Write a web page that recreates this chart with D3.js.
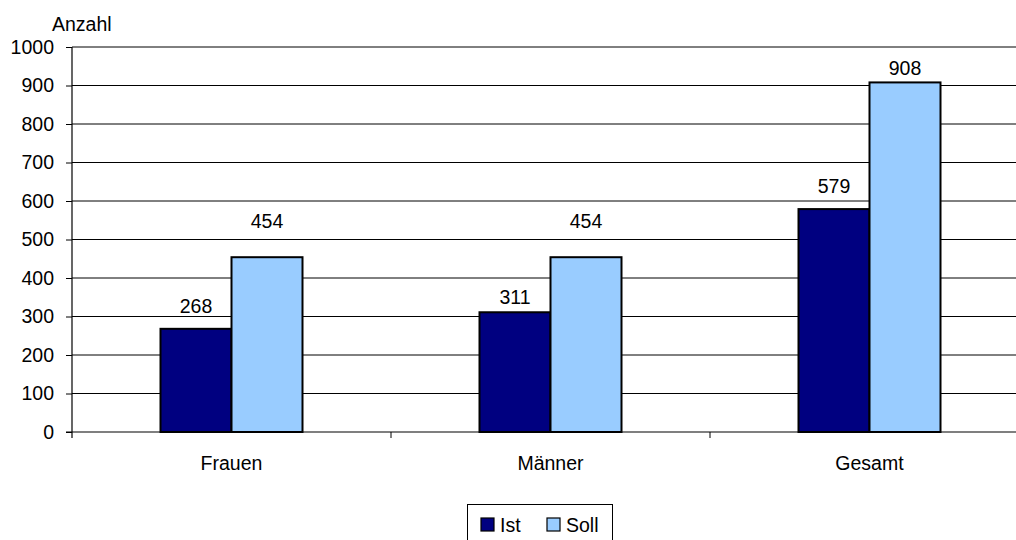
<!DOCTYPE html>
<html><head><meta charset="utf-8">
<script src="https://cdn.jsdelivr.net/npm/d3@7"></script>
<style>
html,body{margin:0;padding:0;background:#fff;overflow:hidden}
text{font-family:Arial,"Liberation Sans",sans-serif;fill:#000}
</style></head>
<body>
<svg id="c" width="1016" height="540"></svg>
<script>
const categories = ["Frauen", "Männer", "Gesamt"];
const seriesNames = ["Ist", "Soll"];
const istValues = [268, 311, 579];
const sollValues = [454, 454, 908];
const yTicks = [0, 100, 200, 300, 400, 500, 600, 700, 800, 900, 1000];
const yTitle = "Anzahl";
const colors = ["#000080", "#99CCFF"];
// label lift above bar top (px), as placed in the reference
const labelLift = [[16, 8, 16], [29, 29, 7]];

const series = [istValues, sollValues];
const svg = d3.select("#c");
const fs = 19.5;

const x = d3.scaleBand().domain(categories).range([72, 1029]).padding(0);
const barW = 71;
const xs = d3.scaleBand().domain(seriesNames)
  .range([(x.bandwidth() - 2 * barW) / 2, (x.bandwidth() + 2 * barW) / 2]).padding(0);
const y = d3.scaleLinear().domain([0, 1000]).range([432, 47]);

// gridlines
svg.append("g").selectAll("line").data(yTicks.filter(d => d > 0)).join("line")
  .attr("x1", 72).attr("x2", 1029)
  .attr("y1", d => y(d)).attr("y2", d => y(d))
  .attr("stroke", "#000").attr("stroke-width", 1);

// y axis
const yAxis = d3.axisLeft(y).tickValues(yTicks).tickSize(6).tickPadding(12).tickFormat(d3.format("d"));
const ga = svg.append("g").attr("transform", "translate(72,0)").call(yAxis);
ga.select(".domain").remove();
ga.selectAll(".tick line").attr("stroke", "#000");
ga.selectAll(".tick text").style("font-size", fs + "px").attr("fill", "#000")
  .style("font-family", "Arial, 'Liberation Sans', sans-serif").attr("x", -18);
svg.append("line").attr("x1", 72).attr("x2", 72).attr("y1", y(1000)).attr("y2", 438)
  .attr("stroke", "#000").attr("stroke-width", 1.2);

// bars
categories.forEach((c, i) => {
  const g = svg.append("g").attr("transform", `translate(${x(c)},0)`);
  g.selectAll("rect").data(seriesNames.map((s, k) => ({s, k, v: series[k][i]}))).join("rect")
    .attr("x", d => xs(d.s)).attr("width", xs.bandwidth())
    .attr("y", d => y(d.v)).attr("height", d => y(0) - y(d.v))
    .attr("fill", d => colors[d.k]).attr("stroke", "#000").attr("stroke-width", 2);
  g.selectAll("text").data(seriesNames.map((s, k) => ({s, k, v: series[k][i]}))).join("text")
    .attr("x", d => xs(d.s) + xs.bandwidth() / 2)
    .attr("y", d => y(d.v) - labelLift[d.k][i])
    .attr("text-anchor", "middle").style("font-size", fs + "px").text(d => d.v);
});

// x axis
const xAxis = d3.axisBottom(x).tickSize(0).tickFormat("");
const gx = svg.append("g").attr("transform", "translate(0,432)").call(xAxis);
gx.selectAll(".tick").remove();
gx.select(".domain").remove();
svg.append("line").attr("x1", 66).attr("x2", 1029).attr("y1", y(0)).attr("y2", y(0))
  .attr("stroke", "#000").attr("stroke-width", 1.2);
svg.append("g").selectAll("line").data(categories.slice(1)).join("line")
  .attr("x1", d => x(d)).attr("x2", d => x(d)).attr("y1", 432).attr("y2", 438)
  .attr("stroke", "#000");
svg.append("g").selectAll("text").data(categories).join("text")
  .attr("x", d => x(d) + x.bandwidth() / 2).attr("y", 470)
  .attr("text-anchor", "middle").style("font-size", fs + "px").text(d => d);

// y title
svg.append("text").attr("x", 52).attr("y", 31).style("font-size", fs + "px").text(yTitle);

// legend
const lg = svg.append("g");
lg.append("rect").attr("x", 467.5).attr("y", 504.5).attr("width", 145).attr("height", 40)
  .attr("fill", "#fff").attr("stroke", "#000").attr("stroke-width", 1);
const legX = [481, 547];
seriesNames.forEach((s, k) => {
  lg.append("rect").attr("x", legX[k]).attr("y", 518).attr("width", 13).attr("height", 13)
    .attr("fill", colors[k]).attr("stroke", "#000").attr("stroke-width", 1.2);
  lg.append("text").attr("x", legX[k] + 19).attr("y", 532).style("font-size", fs + "px").text(s);
});
</script>
</body></html>
